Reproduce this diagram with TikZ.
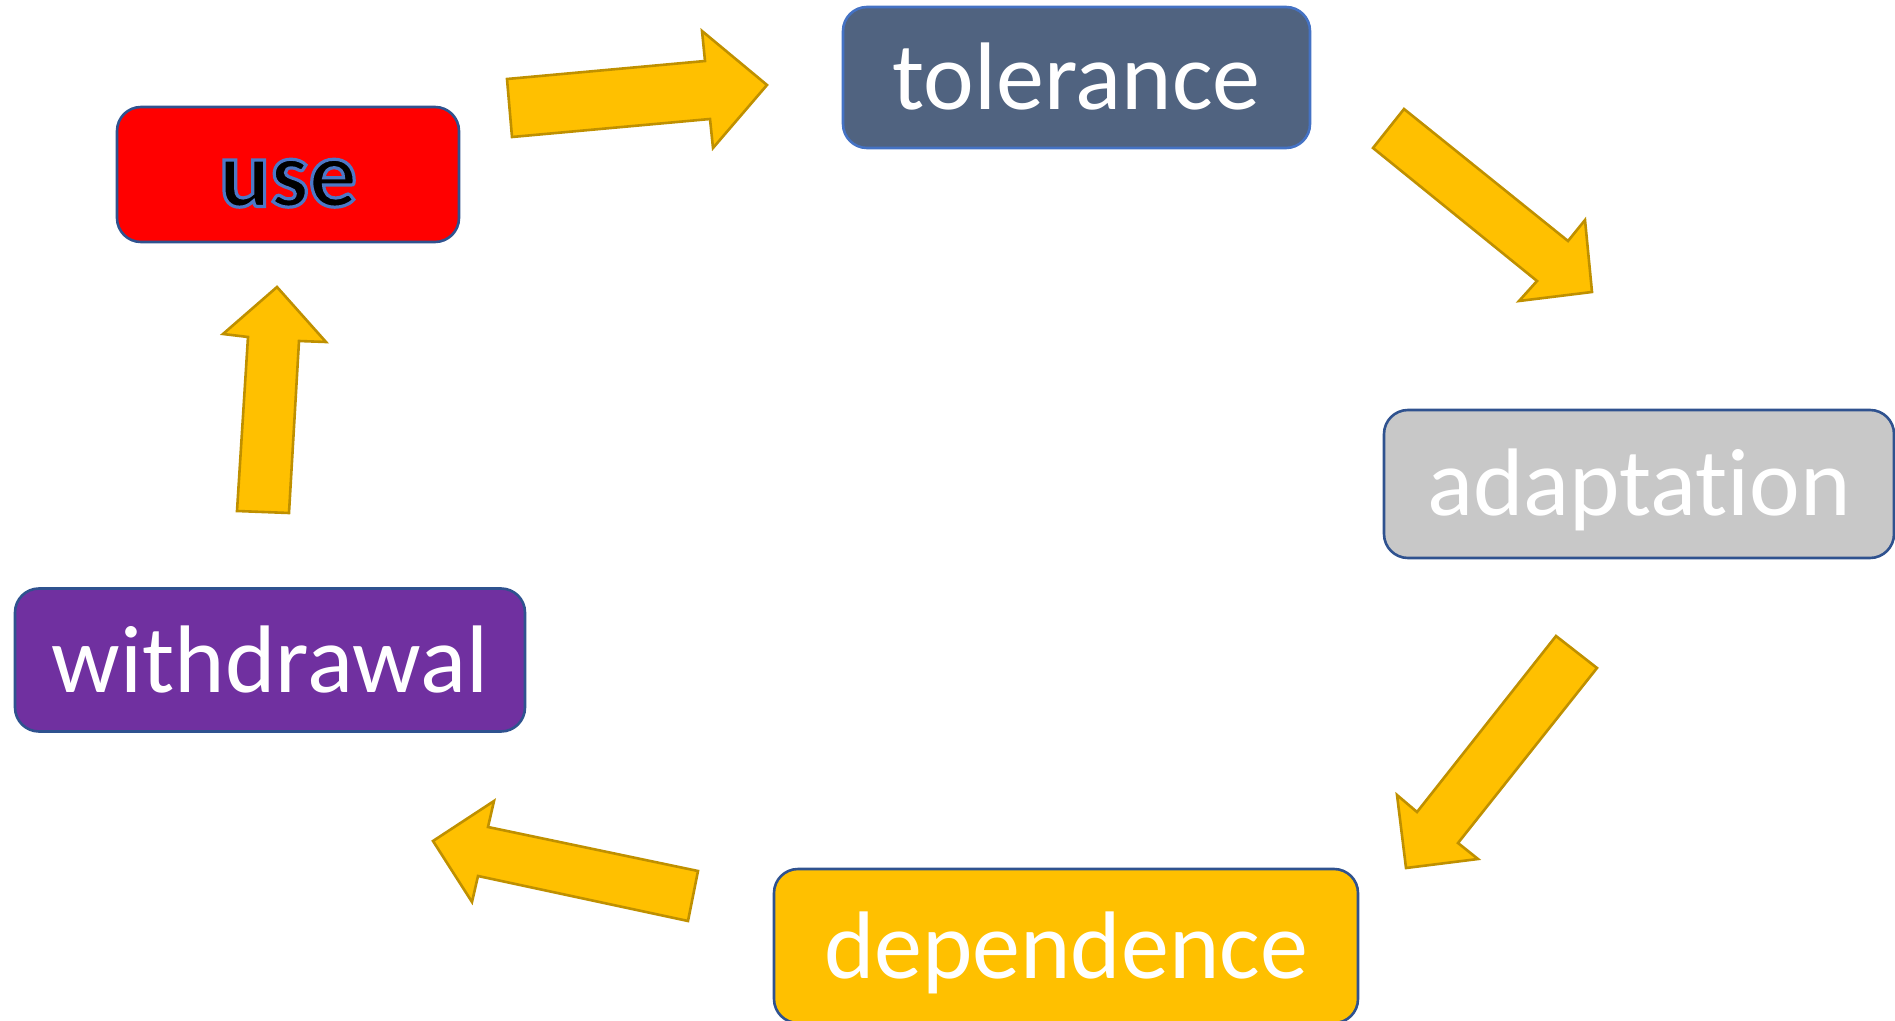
\documentclass[tikz,border=0pt]{standalone}
\usepackage{fontspec}
\setmainfont{Carlito}[Ligatures={NoCommon}]
\definecolor{boxline}{RGB}{47,82,143}
\definecolor{tolline}{RGB}{68,114,196}
\definecolor{tolfill}{RGB}{80,99,128}
\definecolor{adafill}{RGB}{200,200,200}
\definecolor{witfill}{RGB}{112,48,160}
\definecolor{depfill}{RGB}{255,192,0}
\definecolor{arrowfill}{RGB}{255,192,0}
\definecolor{arrowline}{RGB}{191,144,0}
% blue rim round the glyphs of "use" (fill and stroke render mode)
\newcommand\glowtext[1]{\special{pdf:literal direct 2 Tr 1.6 w 0.30 0.47 0.78 RG}#1\special{pdf:literal direct 0 Tr}}
\tikzset{
  stage/.style={draw=boxline, line width=1.3pt, rounded corners=12pt, inner sep=0pt,
    text=white, font=\fontsize{48}{58}\selectfont, text height=33pt, text depth=1pt},
  usetext/.style={inner sep=0pt, anchor=base, font=\fontsize{48}{58}\selectfont\bfseries},
  blockarrow/.style={draw=arrowline, fill=arrowfill, line width=1.3pt, line join=miter},
}
\begin{document}
\begin{tikzpicture}[x=0.5pt, y=-0.5pt]
  \useasboundingbox (0,0) rectangle (1895,1021);

  % Stages of the cycle
  \node[stage, fill=red, minimum width=171pt, minimum height=67.5pt] (use) at (288,174.5) {};
  \node[stage, fill=tolfill, draw=tolline, minimum width=233.5pt, minimum height=70.5pt] (tolerance) at (1076.5,77.5) {tolerance};
  \node[stage, fill=adafill, minimum width=255pt, minimum height=74pt] (adaptation) at (1639,484) {adaptation};
  \node[stage, fill=depfill, minimum width=292pt, minimum height=77pt] (dependence) at (1066,946) {dependence};
  \node[stage, fill=witfill, minimum width=255pt, minimum height=71.5pt] (withdrawal) at (270,660) {withdrawal};

  % Label "use", black with a blue rim
  \node[usetext, text=black] (uselabel) at ([yshift=-16pt]use.center) {\glowtext{use}};

  % Block arrows between the stages
  \draw[blockarrow] (507,79) -- (705,61) -- (702,31) -- (767,85) -- (713,148) -- (710,119) -- (512,137) -- cycle;
  \draw[blockarrow] (1404,109) -- (1568,241) -- (1585,220) -- (1592,292) -- (1519,301) -- (1537,281) -- (1373,148) -- cycle;
  \draw[blockarrow] (1556,636) -- (1597,668) -- (1458,843) -- (1478,859) -- (1406,868) -- (1397,795) -- (1417,812) -- cycle;
  \draw[blockarrow] (698,871) -- (688,921) -- (478,876) -- (472,902) -- (433,841) -- (494,801) -- (488,827) -- cycle;
  \draw[blockarrow] (237,511) -- (289,513) -- (299,341) -- (326,342) -- (277,287) -- (223,334) -- (248,337) -- cycle;
\end{tikzpicture}
\end{document}
